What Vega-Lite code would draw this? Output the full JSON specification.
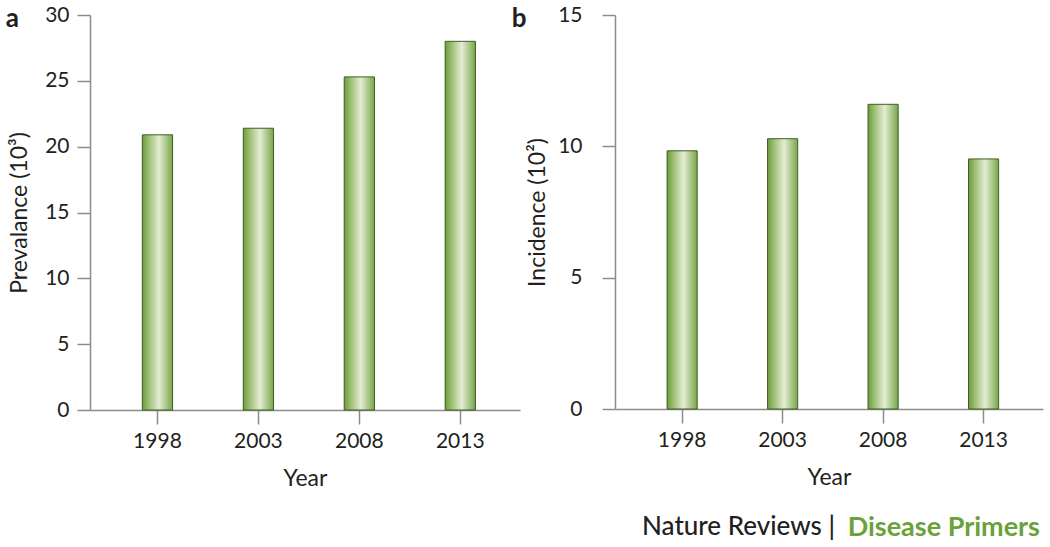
{
  "$schema": "https://vega.github.io/schema/vega-lite/v6.json",
  "background": "white",
  "padding": {"left": 5, "top": 4, "right": 5, "bottom": 0},
  "data": {"values": [
    {"year": "1998", "prevalence": 20.9, "incidence": 9.83},
    {"year": "2003", "prevalence": 21.4, "incidence": 10.29},
    {"year": "2008", "prevalence": 25.3, "incidence": 11.6},
    {"year": "2013", "prevalence": 28.0, "incidence": 9.52}
  ]},
  "config": {
    "font": "Lato",
    "view": {"stroke": null},
    "axis": {
      "domainColor": "#8c8c8c", "tickColor": "#8c8c8c", "domainWidth": 1.5, "tickWidth": 1.5,
      "labelColor": "#231f20", "titleColor": "#231f20", "labelFontSize": 21, "titleFontSize": 23,
      "titleFontWeight": "normal", "grid": false
    }
  },
  "title": {"text": "Nature Reviews |", "orient": "bottom", "anchor": "end", "frame": "bounds", "fontSize": 26, "fontWeight": 500, "color": "#231f20", "offset": 0, "dx": -208, "dy": -27},
  "vconcat": [{
    "hconcat": [
      {
        "width": 430, "height": 395,
        "title": {"text": "a", "anchor": "start", "frame": "bounds", "fontSize": 26, "fontWeight": "bold", "color": "#231f20", "offset": 0, "dx": -3, "dy": 28},
        "mark": {"type": "bar", "stroke": "#3f5f22", "strokeWidth": 1,
          "color": {"gradient": "linear", "x1": 0, "y1": 0, "x2": 1, "y2": 0, "stops": [
            {"offset": 0, "color": "#6e9b3c"}, {"offset": 0.25, "color": "#a5c47f"}, {"offset": 0.55, "color": "#e3edd4"}, {"offset": 1, "color": "#78a548"}]}},
        "encoding": {
          "x": {"field": "year", "type": "ordinal", "scale": {"paddingInner": 0.7, "paddingOuter": 0.48, "align": 0.54},
            "axis": {"title": "Year", "labelAngle": 0, "tickSize": 14, "labelPadding": 6, "titlePadding": 16}},
          "y": {"field": "prevalence", "type": "quantitative", "scale": {"domain": [0, 30], "nice": false},
            "axis": {"title": "Prevalance (10³)", "values": [0, 5, 10, 15, 20, 25, 30], "tickSize": 13, "labelPadding": 8, "titlePadding": 13}}
        }
      },
      {
        "width": 428, "height": 394,
        "title": {"text": "b", "anchor": "start", "frame": "bounds", "fontSize": 26, "fontWeight": "bold", "color": "#231f20", "offset": 0, "dx": -15, "dy": 28},
        "mark": {"type": "bar", "stroke": "#3f5f22", "strokeWidth": 1,
          "color": {"gradient": "linear", "x1": 0, "y1": 0, "x2": 1, "y2": 0, "stops": [
            {"offset": 0, "color": "#6e9b3c"}, {"offset": 0.25, "color": "#a5c47f"}, {"offset": 0.55, "color": "#e3edd4"}, {"offset": 1, "color": "#78a548"}]}},
        "encoding": {
          "x": {"field": "year", "type": "ordinal", "scale": {"paddingInner": 0.7, "paddingOuter": 0.48, "align": 0.54},
            "axis": {"title": "Year", "labelAngle": 0, "tickSize": 14, "labelPadding": 6, "titlePadding": 16}},
          "y": {"field": "incidence", "type": "quantitative", "scale": {"domain": [0, 15], "nice": false},
            "axis": {"title": "Incidence (10²)", "values": [0, 5, 10, 15], "tickSize": 13, "labelPadding": 20, "titlePadding": 8}}
        }
      }
    ],
    "spacing": 95,
    "bounds": "flush",
    "title": {"text": "Disease Primers", "orient": "bottom", "anchor": "end", "frame": "bounds", "fontSize": 27, "fontWeight": "bold", "color": "#6aa23a", "offset": 25, "dx": -3}
  }]
}
